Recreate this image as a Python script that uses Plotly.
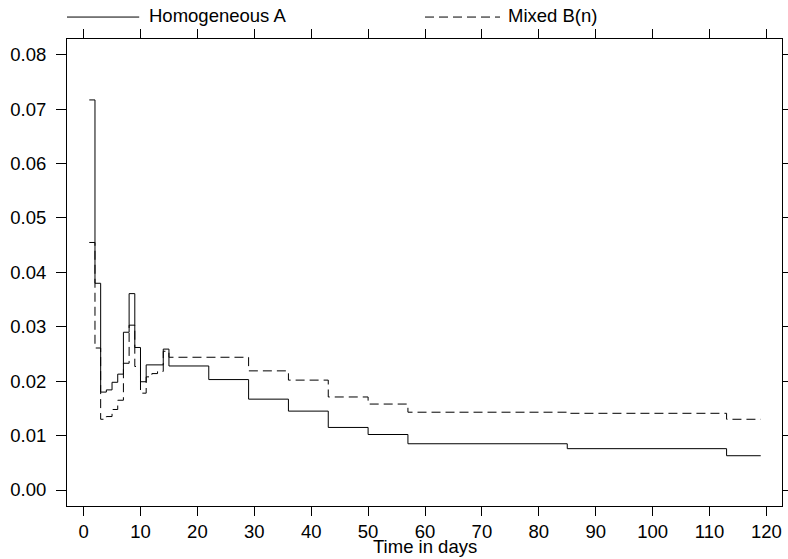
import plotly.graph_objects as go

# Homogeneous A (solid) step function: day at which each level starts
days_a = [1, 2, 3, 4, 5, 6, 7, 8, 9, 10, 11, 14, 15, 22, 29, 36, 43, 50, 57, 85, 113, 119]
vals_a = [0.0717, 0.0380, 0.0180, 0.0184, 0.0198, 0.0213, 0.0290, 0.0361, 0.0262, 0.0199,
          0.0230, 0.0259, 0.0228, 0.0203, 0.0167, 0.0145, 0.0115, 0.0102, 0.0085, 0.0076,
          0.0063, 0.0063]

# Mixed B(n) (dashed)
days_b = [1, 2, 3, 4, 5, 6, 7, 8, 9, 10, 11, 12, 13, 14, 15, 29, 36, 43, 50, 57, 85, 113, 119]
vals_b = [0.0455, 0.0261, 0.0130, 0.0135, 0.0148, 0.0165, 0.0233, 0.0303, 0.0227, 0.0178,
          0.0208, 0.0214, 0.0218, 0.0255, 0.0244, 0.0219, 0.0202, 0.0171, 0.0158, 0.0143,
          0.0141, 0.0130, 0.0130]

x_ticks = list(range(0, 121, 10))
y_ticks = [0.00, 0.01, 0.02, 0.03, 0.04, 0.05, 0.06, 0.07, 0.08]
y_tick_labels = ["0.00", "0.01", "0.02", "0.03", "0.04", "0.05", "0.06", "0.07", "0.08"]

name_a = "Homogeneous A"
name_b = "Mixed B(n)"
x_title = "Time in days"

FONT = "Liberation Sans, Arial, Helvetica, sans-serif"
FS = 18.5
DASH = "9px,5px"

fig = go.Figure()
fig.add_trace(go.Scatter(x=days_a, y=vals_a, mode="lines", name=name_a,
                         line=dict(color="black", width=1, shape="hv")))
fig.add_trace(go.Scatter(x=days_b, y=vals_b, mode="lines", name=name_b,
                         line=dict(color="black", width=1, shape="hv", dash=DASH)))

axis_common = dict(showline=True, linecolor="black", linewidth=1, mirror="ticks",
                   ticks="outside", tickwidth=1, tickcolor="black",
                   showgrid=False, zeroline=False, automargin=False,
                   tickfont=dict(family=FONT, size=FS, color="black"))

fig.update_xaxes(range=[-2.915, 122.74], tickvals=x_ticks, ticklen=9,
                 ticklabelstandoff=0, **axis_common)
fig.update_yaxes(range=[-0.00294, 0.0829], tickvals=y_ticks, ticktext=y_tick_labels,
                 ticklen=10, ticklabelstandoff=6, **axis_common)

# Legend drawn at the top (key lines + labels)
ly = 1.047
fig.add_shape(type="line", xref="paper", yref="paper", x0=0.0, x1=0.101, y0=ly, y1=ly,
              line=dict(color="black", width=1))
fig.add_shape(type="line", xref="paper", yref="paper", x0=0.5007, x1=0.6056, y0=ly, y1=ly,
              line=dict(color="black", width=1, dash=DASH))
fig.add_annotation(xref="paper", yref="paper", x=0.1125, y=ly + 0.003, text=name_a,
                   showarrow=False, xanchor="left", yanchor="middle",
                   font=dict(family=FONT, size=FS, color="black"))
fig.add_annotation(xref="paper", yref="paper", x=0.6135, y=ly + 0.003, text=name_b,
                   showarrow=False, xanchor="left", yanchor="middle",
                   font=dict(family=FONT, size=FS, color="black"))
fig.add_annotation(xref="paper", yref="paper", x=0.5, y=-0.086, text=x_title,
                   showarrow=False, xanchor="center", yanchor="middle",
                   font=dict(family=FONT, size=FS, color="black"))

fig.update_layout(width=788, height=559, showlegend=False,
                  margin=dict(l=67, r=6, t=39, b=53, autoexpand=False),
                  paper_bgcolor="white", plot_bgcolor="white",
                  font=dict(family=FONT, size=FS, color="black"))

fig.write_html("out.html", config={"displayModeBar": False},
               post_script="document.body.style.margin='0px';document.body.style.overflow='hidden';")
